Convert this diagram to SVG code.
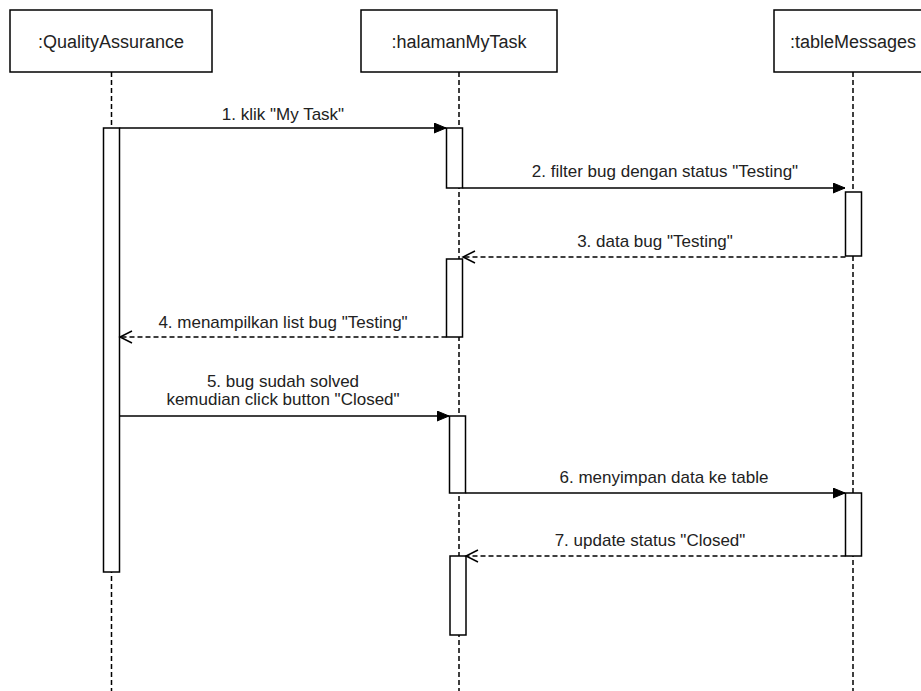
<svg xmlns="http://www.w3.org/2000/svg" width="921" height="691" viewBox="0 0 921 691">
  <style>
    .obj { fill: #ffffff; stroke: #000000; stroke-width: 1.5; }
    .objlabel { font-family: "Liberation Sans", Arial, sans-serif; font-size: 18px; fill: #222222; text-anchor: middle; }
    .lifeline { stroke: #000000; stroke-width: 1.5; stroke-dasharray: 5 3; fill: none; }
    .act { fill: #ffffff; stroke: #000000; stroke-width: 1.5; }
    .call { stroke: #000000; stroke-width: 1.5; fill: none; marker-end: url(#block); }
    .reply { stroke: #000000; stroke-width: 1.5; fill: none; stroke-dasharray: 5 3; marker-end: url(#open); }
    .msg { font-family: "Liberation Sans", Arial, sans-serif; font-size: 17px; fill: #222222; text-anchor: middle; }
  </style>
  <defs>
    <marker id="block" markerUnits="userSpaceOnUse" markerWidth="14" markerHeight="12" refX="12" refY="5" orient="auto">
      <path d="M0,0 L12,5 L0,10 Z" fill="#000000" stroke="#000000" stroke-width="1"/>
    </marker>
    <marker id="open" markerUnits="userSpaceOnUse" markerWidth="16" markerHeight="16" refX="13" refY="7" orient="auto">
      <path d="M1,1 L13,7 L1,13" fill="none" stroke="#000000" stroke-width="1.5"/>
    </marker>
  </defs>

  <rect width="921" height="691" fill="#ffffff"/>

  <!-- lifelines -->
  <g id="lifelines">
    <line class="lifeline" x1="111.5" y1="72" x2="111.5" y2="691"/>
    <line class="lifeline" x1="459" y1="72" x2="459" y2="691"/>
    <line class="lifeline" x1="853" y1="72" x2="853" y2="691"/>
  </g>

  <!-- participants -->
  <g id="qualityAssurance">
    <rect class="obj" x="10" y="10" width="202" height="62"/>
    <text class="objlabel" x="111" y="48">:QualityAssurance</text>
    <rect class="act" x="103.5" y="128" width="16" height="444"/>
  </g>
  <g id="halamanMyTask">
    <rect class="obj" x="361" y="10" width="196" height="62"/>
    <text class="objlabel" x="459" y="48">:halamanMyTask</text>
    <rect class="act" x="446.5" y="128" width="16" height="60"/>
    <rect class="act" x="446.5" y="259" width="16" height="78"/>
    <rect class="act" x="449.5" y="416" width="16" height="77"/>
    <rect class="act" x="450" y="556" width="16" height="79"/>
  </g>
  <g id="tableMessages">
    <rect class="obj" x="774" y="10" width="158" height="62"/>
    <text class="objlabel" x="853" y="48">:tableMessages</text>
    <rect class="act" x="845.5" y="192" width="16" height="64"/>
    <rect class="act" x="845.5" y="493" width="16" height="63"/>
  </g>

  <!-- messages -->
  <g id="connectors">
    <line class="call" x1="119.5" y1="128" x2="446" y2="128"/>
    <line class="call" x1="462.5" y1="188" x2="845" y2="188"/>
    <line class="reply" x1="845.5" y1="257" x2="463" y2="257"/>
    <line class="reply" x1="446.5" y1="337" x2="120" y2="337"/>
    <line class="call" x1="119.5" y1="416" x2="449" y2="416"/>
    <line class="call" x1="465.5" y1="493" x2="845" y2="493"/>
    <line class="reply" x1="845.5" y1="556" x2="466" y2="556"/>
  </g>

  <g id="labels">
    <text class="msg" x="283" y="120">1. klik "My Task"</text>
    <text class="msg" x="665" y="177">2. filter bug dengan status "Testing"</text>
    <text class="msg" x="655" y="247">3. data bug "Testing"</text>
    <text class="msg" x="283" y="328">4. menampilkan list bug "Testing"</text>
    <text class="msg" x="283" y="387">5. bug sudah solved</text>
    <text class="msg" x="283" y="405">kemudian click button "Closed"</text>
    <text class="msg" x="664" y="483">6. menyimpan data ke table</text>
    <text class="msg" x="650" y="546">7. update status "Closed"</text>
  </g>
</svg>
